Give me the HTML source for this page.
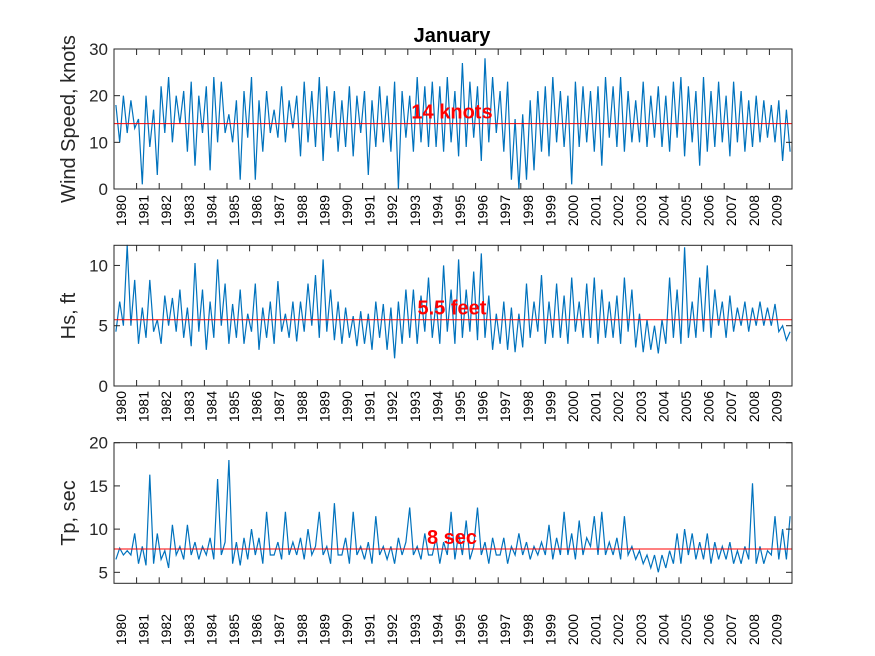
<!DOCTYPE html>
<html><head><meta charset="utf-8"><style>
html,body{margin:0;padding:0;background:#fff}
svg{display:block;font-family:"Liberation Sans",sans-serif}
</style></head><body>
<svg id="chart" width="875" height="656" xmlns="http://www.w3.org/2000/svg">
<rect width="875" height="656" fill="#fff"/>
<text x="452" y="42" text-anchor="middle" font-size="20" font-weight="bold" fill="#000">January</text>
</svg>
<script>
const years=[1980,1981,1982,1983,1984,1985,1986,1987,1988,1989,1990,1991,1992,1993,1994,1995,1996,1997,1998,1999,2000,2001,2002,2003,2004,2005,2006,2007,2008,2009];
const windValues=[18,10,20,12,19,13, 15,1,20,9,17,3, 22,12,24,10,20,14, 21,8,23,5,20,12, 22,4,24,10,23,12, 16,10,19,2,21,11, 24,2,19,8,21,12, 17,11,22,10,19,13, 20,7,23,10,21,9, 24,6,22,11,21,8, 19,9,22,7,20,12, 21,3,19,9,22,10, 20,8,23,0,21,11, 20,8,24,10,22,9, 23,9,22,8,24,10, 21,7,27,9,23,11, 22,6,28,10,24,12, 21,8,23,2,15,0, 16,2,19,4,21,8, 22,7,24,10,21,9, 20,1,23,9,22,10, 21,8,22,5,24,11, 22,9,24,8,21,10, 19,10,23,9,20,11, 22,9,20,8,23,11, 24,7,22,10,21,5, 24,8,21,9,23,10, 20,7,23,10,21,8, 19,9,20,10,19,11, 18,10,19,6,17,8];
const hsValues=[4.5,7,5,11.7,5,8.8, 3.5,6.5,4,8.8,4.5,5.5, 3.5,7.5,5,7.3,4.5,8, 4,6.5,3.3,10.2,4.5,8, 3,7,4,10.5,5,8.5, 3.5,6.8,4,8,3.5,6, 4.5,8.5,3,6.5,4,7, 3.5,8.7,4.5,6,4,7, 3.7,7,4.5,8.5,5,9.2, 4,10.5,4.5,8,3.8,7, 3.5,6.5,4,5.8,3.3,6.2, 3.5,6,3,7,4,6.8, 3,6.5,2.3,7,3.5,8, 4,8,3.5,7.5,4.5,9, 4,7,3.5,10,4.5,8, 3.5,10.5,4,8,4.5,9.5, 3.8,11,4,7.5,3,6, 3.5,7,3,6.5,2.8,6, 3.2,8.5,4,7,4.5,9.2, 3.5,7,4,8.5,4,7.5, 3.5,9,4.5,7,4,8.5, 4,9,3.5,8,4,7, 4,7.5,3.5,9,4.5,8, 3.2,6,2.8,5.5,3,5, 2.7,5.5,3.5,9,4,8, 3.5,11.5,4,7,4,9, 4.5,10,4,8,5,7, 4,7.5,4.5,6.5,5,7, 4.5,6.5,5,7,5,6.5, 5,6.8,4.5,5,3.8,4.5];
const tpValues=[6.5,7.8,7,7.5,7,9.5, 6,8,5.8,16.3,6,9.5, 6.5,7.5,5.5,10.5,7,8, 6.5,10.5,7,8.5,6.5,8, 7,9,6.5,15.8,7,8.5, 18,6,8.5,5.8,9,6.5, 10,7,9,6,12,7, 7,8.5,6.5,12,7,8.5, 7,9,6.5,10,7,8, 12,7,8,6,13,7, 7,9,6,12,7,8, 6.5,8.5,6,11.5,7,8, 6.5,8,6,9,7,8.5, 12.5,7,8,6.5,9.5,7, 7,9,6,8.5,7,12, 6.5,9.5,7,11,6.5,8, 12.5,7,8.5,6,9,7, 7,9,6,8,7,9.5, 7,8.5,6.5,8,7,8.5, 7,10.5,6.5,9,7,12, 7,9.5,6.5,11,7,9, 8,11.5,7,12,7,8.5, 7,9,6.5,11.5,7,8, 6.5,7.5,6,7,5.5,7, 5,7,5.5,7.5,6,9.5, 6,10,7,9.5,6.5,8.5, 6.5,9.5,6,8.5,6.5,8, 6.5,8.5,6,7.5,6,8, 6.5,15.3,6,8,6,7.5, 7,11.5,6.5,10,6.5,11.5];
const windTicks=[0,10,20,30], hsTicks=[0,5,10], tpTicks=[5,10,15,20];
const refValues=[14,5.5,7.7];
const refLabels=["14 knots","5.5 feet","8 sec"];
const yTitles=["Wind Speed, knots","Hs, ft","Tp, sec"];

const NS="http://www.w3.org/2000/svg", svg=document.getElementById('chart');
function mk(tag,attrs,parent){const e=document.createElementNS(NS,tag);for(const k in attrs)e.setAttribute(k,attrs[k]);(parent||svg).appendChild(e);return e;}
const X0=114,X1=792;
function xs(t){return X0+(t-1980)/30*(X1-X0);}
const panels=[
 {vals:windValues,ticks:windTicks,min:0,max:30,top:49,bot:189,lab:195,name:'wind',ly:119,ry:120},
 {vals:hsValues,ticks:hsTicks,min:0,max:11.67,top:245.3,bot:386,lab:391,name:'hs',ly:316,ry:315},
 {vals:tpValues,ticks:tpTicks,min:3.73,max:20,top:442.7,bot:583.3,lab:614,name:'tp',ly:513,ry:545}
];
panels.forEach((p,pi)=>{
 const g=mk('g',{});
 
 
 const ys=v=>p.bot-(v-p.min)/(p.max-p.min)*(p.bot-p.top);
 // series
 const pts=p.vals.map((v,i)=>xs(1980+(i+0.5)/6).toFixed(1)+','+ys(v).toFixed(1)).join(' ');
 const line=mk('polyline',{points:pts,fill:'none',stroke:'#0072BD','stroke-width':1.2,'stroke-linejoin':'miter'},g);
 
 
 // reference line
 const r=mk('line',{x1:X0,x2:X1,y1:ys(refValues[pi]),y2:ys(refValues[pi]),stroke:'#ff0000','stroke-width':1},g);
 
 
 const rt=mk('text',{x:452,y:p.ry-(pi==2?0:0),'text-anchor':'middle','font-size':20,'font-weight':'bold',fill:'#ff0000'},g);
 rt.setAttribute('y', ys(refValues[pi])-5);
 rt.textContent=refLabels[pi];
 
 
 // frame
 const f=mk('rect',{x:X0,y:p.top,width:X1-X0,height:p.bot-p.top,fill:'none',stroke:'#262626','stroke-width':1},g);
 
 
 // y ticks
 p.ticks.forEach(t=>{
  const y=ys(t);
  mk('line',{x1:X0,x2:X0+6,y1:y,y2:y,stroke:'#262626'},g);
  mk('line',{x1:X1,x2:X1-6,y1:y,y2:y,stroke:'#262626'},g);
  const tl=mk('text',{x:108,y:y+6,'text-anchor':'end','font-size':17,fill:'#262626'},g);
  tl.textContent=t;
  
  
 });
 // x ticks
 years.forEach(yr=>{
  const x=xs(yr);
  mk('line',{x1:x,x2:x,y1:p.bot,y2:p.bot-6,stroke:'#262626'},g);
  mk('line',{x1:x,x2:x,y1:p.top,y2:p.top+6,stroke:'#262626'},g);
  const tl=mk('text',{x:0,y:0,'text-anchor':'end','font-size':14,fill:'#000',transform:`translate(${x+12},${p.lab}) rotate(-90)`},g);
  tl.textContent=yr;
  
  
 });
 const yt=mk('text',{x:0,y:0,'text-anchor':'middle','font-size':20,fill:'#262626',transform:`translate(75,${p.ly}) rotate(-90)`},g);
 yt.textContent=yTitles[pi];
 
 
});
</script>
</body></html>
